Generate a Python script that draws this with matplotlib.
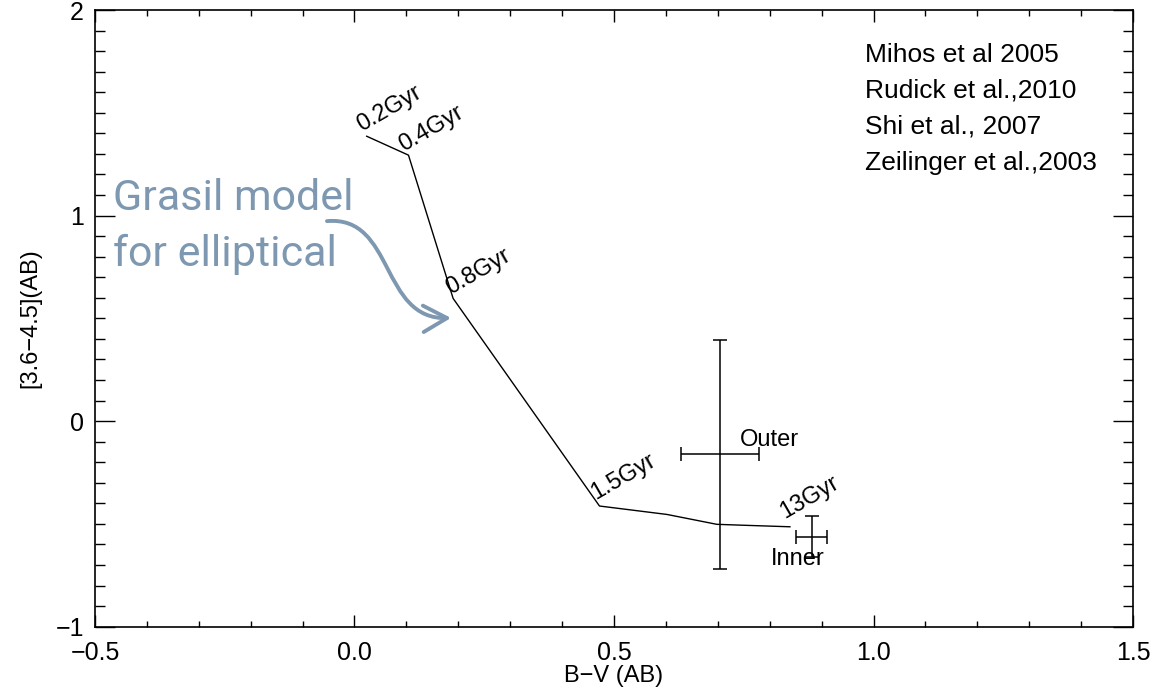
import matplotlib
matplotlib.use('Agg')
import matplotlib.pyplot as plt
from matplotlib.path import Path
from matplotlib.patches import FancyArrowPatch
from matplotlib.ticker import MultipleLocator

plt.rcParams['font.family'] = ['Liberation Sans', 'DejaVu Sans']

# Grasil model track for elliptical
track_bv = [0.0235, 0.104, 0.190, 0.472, 0.602, 0.698, 0.743, 0.839]
track_ir = [1.386, 1.294, 0.597, -0.413, -0.454, -0.502, -0.506, -0.514]

# age labels along the track
age_text = ['0.2Gyr', '0.4Gyr', '0.8Gyr', '1.5Gyr', '13Gyr']
age_bv = [0.014, 0.094, 0.185, 0.465, 0.829]
age_ir = [1.407, 1.31, 0.613, -0.384, -0.473]

# measured points (outer, inner)
obs_name = ['Outer', 'Inner']
obs_bv = [0.705, 0.881]
obs_ir = [-0.162, -0.563]
obs_bv_err = [0.075, 0.03]
obs_ir_err = [0.557, 0.10]
obs_lab_bv = [0.743, 0.803]
obs_lab_ir = [-0.122, -0.70]

refs = ['Mihos et al 2005', 'Rudick et al.,2010', 'Shi et al., 2007', 'Zeilinger et al.,2003']

fig = plt.figure(figsize=(11.64, 6.92), dpi=100)
ax = fig.add_axes([0.0816, 0.0944, 0.8918, 0.8911])

ax.plot(track_bv, track_ir, color='black', linewidth=1.0)

for t, x, y in zip(age_text, age_bv, age_ir):
    ax.text(x, y, t, rotation=30, rotation_mode='anchor', ha='left', va='baseline',
            fontsize=17)

ax.errorbar(obs_bv, obs_ir, xerr=obs_bv_err, yerr=obs_ir_err, fmt='none',
            ecolor='black', elinewidth=1.1, capsize=5, capthick=1.1)
for t, x, y in zip(obs_name, obs_lab_bv, obs_lab_ir):
    ax.text(x, y, t, ha='left', va='baseline', fontsize=17)

for i, r in enumerate(refs):
    ax.text(0.7415, 0.9165 - i * 0.0585, r, transform=ax.transAxes, ha='left',
            va='baseline', fontsize=19)

grey_blue = '#7d98b0'
ax.text(-0.466, 1.025, 'Grasil model', fontsize=31, color=grey_blue, ha='left',
        va='baseline', family=['Roboto', 'Liberation Sans'])
ax.text(-0.466, 0.757, 'for elliptical', fontsize=31, color=grey_blue, ha='left',
        va='baseline', family=['Roboto', 'Liberation Sans'])

curve = Path([(-0.053, 0.973), (0.078, 1.002), (0.049, 0.491), (0.186, 0.502)],
             [Path.MOVETO, Path.CURVE4, Path.CURVE4, Path.CURVE4])
arrow = FancyArrowPatch(path=curve, arrowstyle='->,head_length=0.9,head_width=0.5',
                        color=grey_blue, linewidth=2.8, mutation_scale=19)
ax.add_patch(arrow)

ax.set_xlim(-0.5, 1.5)
ax.set_ylim(-1, 2)
ax.xaxis.set_major_locator(MultipleLocator(0.5))
ax.xaxis.set_minor_locator(MultipleLocator(0.1))
ax.yaxis.set_major_locator(MultipleLocator(1))
ax.yaxis.set_minor_locator(MultipleLocator(0.1))
ax.xaxis.set_major_formatter(plt.FuncFormatter(lambda v, p: ('%.1f' % v).replace('-', '\u2212')))
ax.yaxis.set_major_formatter(plt.FuncFormatter(lambda v, p: ('%d' % v).replace('-', '\u2212')))

ax.tick_params(which='both', direction='in', top=True, right=True, labelsize=18, width=1.0)
ax.tick_params(axis='x', which='major', length=8.6, pad=10)
ax.tick_params(axis='x', which='minor', length=4.3)
ax.tick_params(axis='y', which='major', length=14.4, pad=8)
ax.tick_params(axis='y', which='minor', length=7.2)
for s in ax.spines.values():
    s.set_linewidth(1.2)

ax.set_xlabel('B\u2212V (AB)', fontsize=17, labelpad=0)
ax.set_ylabel('[3.6\u22124.5](AB)', fontsize=17, labelpad=10)

fig.savefig('out.png', dpi=100)
